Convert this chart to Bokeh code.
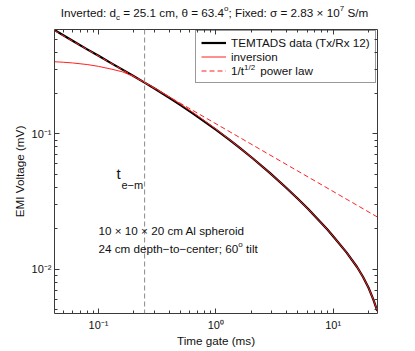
from bokeh.plotting import figure
from bokeh.layouts import column
from bokeh.models import (Range1d, FixedTicker, LogAxis, Span, Label, Legend, LegendItem)
from bokeh.embed import file_html
from bokeh.resources import INLINE

# ---------------- data ----------------
t_data = [0.042, 0.05, 0.06, 0.08, 0.1, 0.13, 0.16, 0.2, 0.247, 0.3, 0.41, 0.5, 0.64, 0.8, 1.0,
          1.3, 1.6, 2.07, 2.9, 4.0, 5.0, 6.1, 8.9, 10.0, 13.0, 16.0, 18.0, 20.0, 22.0, 23.8]
v_data = [0.585, 0.535, 0.487, 0.421, 0.377, 0.330, 0.298, 0.266, 0.239, 0.2161, 0.1822, 0.1629,
          0.1410, 0.1232, 0.1072, 0.0905, 0.0787, 0.0657, 0.0512, 0.0398, 0.0331, 0.0279, 0.0197,
          0.0175, 0.0133, 0.01037, 0.00874, 0.00731, 0.00598, 0.00491]
v_inv = [0.341, 0.338, 0.334, 0.325, 0.315, 0.300, 0.287, 0.265, 0.240, 0.218, 0.185, 0.1655,
         0.1435, 0.1250, 0.1085, 0.0910, 0.0787, 0.0657, 0.0512, 0.0398, 0.0331, 0.0279, 0.0197,
         0.0175, 0.0133, 0.01037, 0.00874, 0.00731, 0.00598, 0.00491]
t_pow = [0.042, 23.8]
v_pow = [0.580, 0.0243]
t_em = 0.247

x_ticks = [0.1, 1, 10]
x_tick_labels = ["10⁻¹", "10⁰", "10¹"]
y_ticks = [0.01, 0.1]
y_tick_labels = ["10⁻²", "10⁻¹"]
x_minor = [m * 10.0 ** e for e in (-2, -1, 0, 1) for m in range(2, 10)]
y_minor = [m * 10.0 ** e for e in (-3, -2, -1) for m in range(2, 10)]

FONT = "Liberation Sans"
FS = 11.7
SS = 8.0
TXT = "#111111"

# Arial / Liberation Sans advance widths (per 1000 em)
W = {" ": 278, "\u00a0": 278, "(": 333, ")": 333, ",": 278, "-": 333, ".": 278, "/": 278,
     ":": 278, ";": 278, "=": 584, "×": 584, "−": 584, "θ": 556, "σ": 617,
     "A": 667, "F": 611, "I": 278, "S": 667, "T": 611,
     "a": 556, "c": 500, "d": 556, "e": 556, "f": 278, "i": 222, "l": 222, "m": 833,
     "n": 556, "o": 556, "p": 556, "r": 333, "s": 500, "t": 278, "v": 500, "x": 500}


def tw(s, size):
    return sum(W.get(ch, 556) for ch in s) * size / 1000.0


TH = 24  # height of the title strip
FL, FR = 54, 377  # page x of the plot frame (the title strip's frame is aligned to it)

# ---------------- title strip ----------------
tf = figure(width=408, height=TH, x_range=Range1d(FL, FR), y_range=Range1d(0, TH),
            output_backend="svg", toolbar_location=None, x_axis_location=None,
            y_axis_location=None, min_border=0)
tf.grid.visible = False
tf.outline_line_color = None

# ---------------- main plot ----------------
p = figure(width=408, height=349 - TH, x_axis_type="log", y_axis_type="log",
           x_range=Range1d(0.0421, 23.9), y_range=Range1d(0.0047, 0.59),
           output_backend="svg", toolbar_location=None,
           min_border_left=FL, min_border_right=408 - FR, min_border_top=29 - TH,
           min_border_bottom=10)
p.grid.visible = False
p.outline_line_color = None
p.background_fill_color = "white"

AX = "#3a3a3a"


def style_axis(ax, ticks, minor, labels):
    ax.ticker = FixedTicker(ticks=ticks, minor_ticks=minor)
    ax.major_tick_in = 5
    ax.major_tick_out = 0
    ax.minor_tick_in = 3
    ax.minor_tick_out = 0
    ax.axis_line_color = AX
    ax.major_tick_line_color = AX
    ax.minor_tick_line_color = AX
    if labels is None:
        ax.major_label_text_font_size = "1px"
        ax.major_label_text_alpha = 0
        ax.major_label_standoff = 0
    else:
        ax.major_label_overrides = {k: v for k, v in zip(ticks, labels)}
        ax.major_label_text_font = FONT
        ax.major_label_text_font_size = "11px"
        ax.major_label_text_color = TXT
    ax.axis_label_text_font = FONT
    ax.axis_label_text_font_size = f"{FS}px"
    ax.axis_label_text_font_style = "normal"
    ax.axis_label_text_color = TXT


style_axis(p.xaxis[0], x_ticks, x_minor, x_tick_labels)
style_axis(p.yaxis[0], y_ticks, y_minor, y_tick_labels)
p.xaxis[0].axis_label = "Time gate (ms)"
p.yaxis[0].axis_label = "EMI Voltage (mV)"
p.xaxis[0].major_label_standoff = 5
p.xaxis[0].axis_label_standoff = 0
p.yaxis[0].major_label_standoff = 3
p.yaxis[0].axis_label_standoff = 3

top_ax = LogAxis()
right_ax = LogAxis()
style_axis(top_ax, x_ticks, x_minor, None)
style_axis(right_ax, y_ticks, y_minor, None)
p.add_layout(top_ax, "above")
p.add_layout(right_ax, "right")

# lines
r_data = p.line(t_data, v_data, line_color="black", line_width=2.2, line_join="round")
r_inv = p.line(t_data, v_inv, line_color="#ff2020", line_width=1, line_join="round")
r_pow = p.line(t_pow, v_pow, line_color="#ff2020", line_width=1, line_dash="5 3")

p.add_layout(Span(location=t_em, dimension="height", line_color="#8a8a8a",
                  line_width=1, line_dash="5 3"))

NB = "\u00a0"
legend = Legend(items=[LegendItem(label="TEMTADS data (Tx/Rx 12)", renderers=[r_data]),
                       LegendItem(label="inversion", renderers=[r_inv]),
                       LegendItem(label="1/t" + NB * 5 + "power law", renderers=[r_pow])],
                location=(141, 230), padding=5, spacing=1, margin=0,
                label_height=13, glyph_height=13, glyph_width=25, label_standoff=5,
                label_text_font=FONT, label_text_font_size=f"{FS}px", label_text_color=TXT,
                border_line_color="#333333", border_line_width=1, background_fill_alpha=0.0)
p.add_layout(legend, "center")


def rich(fig, pieces, x0, y_base, anchor="left", size=FS, units="screen"):
    """pieces: list of (text, kind) with kind 0 normal, 1 superscript, -1 subscript."""
    total = sum(tw(s, size if k == 0 else SS) for s, k in pieces)
    x = x0 - total / 2.0 if anchor == "center" else x0
    for s, k in pieces:
        fs = size if k == 0 else SS
        dy = 0 if k == 0 else (4.5 if k == 1 else -4.5)
        body = s.lstrip(" ")
        lead = tw(s[:len(s) - len(body)], fs)
        fig.add_layout(Label(x=x + lead, y=y_base + dy, x_units=units, y_units=units,
                             text=body.rstrip(" "), level="overlay",
                             text_font=FONT, text_font_size=f"{fs}px", text_color=TXT,
                             text_baseline="middle", text_align="left"))
        x += tw(s, fs)


# title: centred at page x=214, y=12
rich(tf, [("Inverted: d", 0), ("c", -1), (" = 25.1 cm, θ = 63.4", 0), ("o", 1),
          ("; Fixed: σ = 2.83 × 10", 0), ("7", 1), (" S/m", 0)], 214, TH - 12,
     anchor="center", units="data")

# superscript in legend
rich(p, [("1/2", 1)], 176 + tw("1/t", FS) + 0.5, 241.5)

# t_e-m
p.add_layout(Label(x=62, y=140, x_units="screen", y_units="screen", text="t", level="overlay",
                   text_font=FONT, text_font_size="15px", text_color=TXT,
                   text_baseline="middle"))
p.add_layout(Label(x=67, y=129, x_units="screen", y_units="screen", text="e−m", level="overlay",
                   text_font=FONT, text_font_size="11px", text_color=TXT,
                   text_baseline="middle"))

rich(p, [("10 × 10 × 20 cm Al spheroid", 0)], 44, 83)
rich(p, [("24 cm depth−to−center; 60", 0), ("o", 1), (" tilt", 0)], 44, 65)

layout = column(tf, p, spacing=0)
open("out.html", "w").write(file_html(layout, INLINE))
